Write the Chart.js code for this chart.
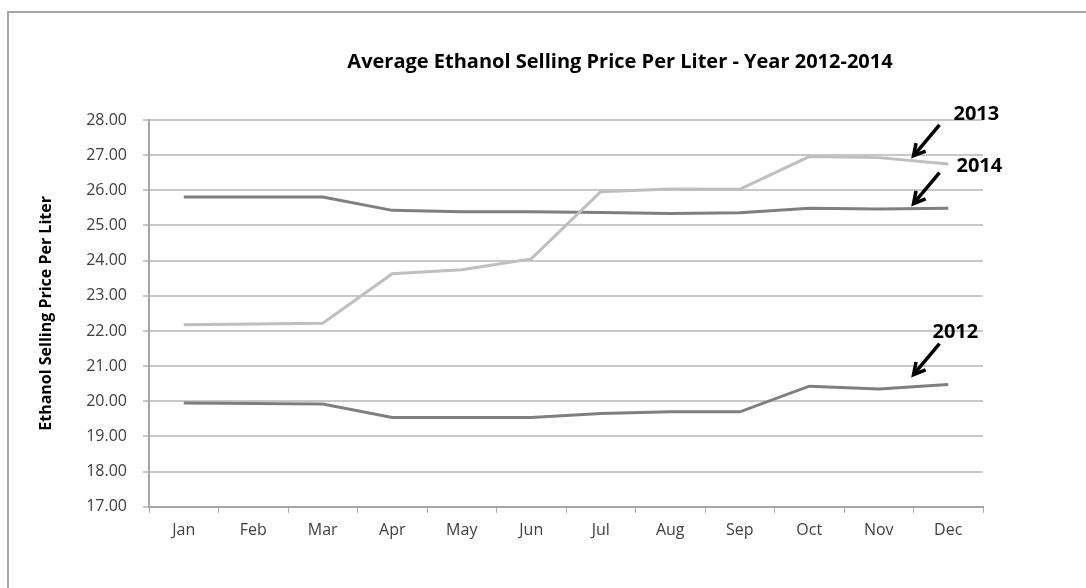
<!DOCTYPE html>
<html>
<head>
<meta charset="utf-8">
<script src="https://cdn.jsdelivr.net/npm/chart.js@4"></script>
<style>
  html, body { margin: 0; padding: 0; background: #fff; }
  #wrap { width: 1086px; height: 588px; }
</style>
</head>
<body>
<div id="wrap"><canvas id="lineChart"></canvas></div>
<script>
var months = ["Jan", "Feb", "Mar", "Apr", "May", "Jun", "Jul", "Aug", "Sep", "Oct", "Nov", "Dec"];
var price2012 = [19.95, 19.94, 19.92, 19.54, 19.54, 19.54, 19.65, 19.70, 19.70, 20.43, 20.35, 20.48];
var price2013 = [22.18, 22.20, 22.22, 23.63, 23.74, 24.05, 25.96, 26.04, 26.03, 26.96, 26.93, 26.75];
var price2014 = [25.81, 25.81, 25.81, 25.43, 25.39, 25.39, 25.37, 25.34, 25.36, 25.49, 25.47, 25.49];
var yearLabels = ["2012", "2013", "2014"];
var chartTitle = 'Average Ethanol Selling Price Per Liter - Year 2012-2014';

var font = "'Open Sans', 'Noto Sans', sans-serif";

// border round the whole chart, like the excel frame, plus the title
var framePlugin = {
    id: 'frame',
    beforeDraw: function(chart) {
        var c = chart.ctx;
        c.save();
        c.fillStyle = '#fff';
        c.fillRect(0, 0, chart.width, chart.height);
        c.strokeStyle = '#a6a6a6';
        c.lineWidth = 2;
        c.beginPath();
        c.moveTo(8, chart.height + 5);
        c.lineTo(8, 12);
        c.lineTo(chart.width + 5, 12);
        c.stroke();
        // title sits a bit right of the plot centre in the original
        var a = chart.chartArea;
        c.fillStyle = '#000';
        c.font = "bold 20px " + font;
        c.textAlign = 'center';
        c.textBaseline = 'middle';
        c.fillText(chartTitle, (a.left + a.right) / 2 + 54, a.top - 58);
        c.restore();
    }
};

// the year labels with their arrows, placed from the scales
function drawArrow(c, x1, y1, x2, y2) {
    c.beginPath();
    c.moveTo(x1, y1);
    c.lineTo(x2, y2);
    c.stroke();
    var ang = Math.atan2(y2 - y1, x2 - x1);
    var len = 13;
    c.beginPath();
    c.moveTo(x2 + len * Math.cos(ang + Math.PI - 0.5), y2 + len * Math.sin(ang + Math.PI - 0.5));
    c.lineTo(x2, y2);
    c.lineTo(x2 + len * Math.cos(ang + Math.PI + 0.5), y2 + len * Math.sin(ang + Math.PI + 0.5));
    c.stroke();
}

var notePlugin = {
    id: 'notes',
    afterDatasetsDraw: function(chart) {
        var c = chart.ctx;
        var xs = chart.scales.x, ys = chart.scales.y;
        // [series, lift above line, label dx, label dy]
        var notes = [
            [price2013, 5, 40, -41, yearLabels[1]],
            [price2014, 5, 43, -37, yearLabels[2]],
            [price2012, 12, 19, -42, yearLabels[0]]
        ];
        c.save();
        c.strokeStyle = '#000';
        c.lineWidth = 3.5;
        c.fillStyle = '#000';
        c.font = "bold 20px " + font;
        c.textBaseline = 'middle';
        notes.forEach(function(n) {
            var v = (n[0][10] + n[0][11]) / 2;
            var tx = xs.getPixelForValue(10.5);
            var ty = ys.getPixelForValue(v) - n[1];
            drawArrow(c, tx + 26, ty - 31, tx, ty);
            c.fillText(n[4], tx + n[2], ty + n[3]);
        });
        c.restore();
    }
};

var ctx = document.getElementById('lineChart').getContext('2d');

var myLineChart = new Chart(ctx, {
    type: 'line',
    data: {
        labels: months,
        datasets: [
            { label: yearLabels[0], data: price2012, borderColor: '#7f7f7f', borderWidth: 3 },
            { label: yearLabels[1], data: price2013, borderColor: '#bfbfbf', borderWidth: 3 },
            { label: yearLabels[2], data: price2014, borderColor: '#7f7f7f', borderWidth: 3 }
        ]
    },
    options: {
        responsive: true,
        maintainAspectRatio: false,
        animation: false,
        devicePixelRatio: 1,
        elements: { point: { radius: 0 }, line: { tension: 0 } },
        layout: { padding: { left: 37, right: 103, top: 120, bottom: 40 } },
        plugins: {
            legend: { display: false },
            tooltip: { enabled: false },
            title: { display: false }
        },
        scales: {
            x: {
                offset: true,
                grid: { display: true, drawOnChartArea: false, offset: true, color: '#a6a6a6', tickLength: 6 },
                border: { color: '#a6a6a6', width: 2 },
                ticks: { color: '#404040', font: { family: font, size: 16 }, padding: 8 }
            },
            y: {
                min: 17,
                max: 28,
                afterFit: function(s) { s.width = 112; },
                grid: { color: '#c8c8c8', lineWidth: 2, tickLength: 6 },
                border: { color: '#a6a6a6', width: 2 },
                ticks: {
                    stepSize: 1,
                    color: '#404040',
                    font: { family: font, size: 16 },
                    padding: 16,
                    callback: function(v) { return v.toFixed(2); }
                },
                title: {
                    display: true,
                    text: 'Ethanol Selling Price Per Liter',
                    color: '#000',
                    font: { family: font, size: 16, weight: 'bold' },
                    padding: { top: 0, bottom: 0 }
                }
            }
        }
    },
    plugins: [framePlugin, notePlugin]
});
</script>
</body>
</html>
